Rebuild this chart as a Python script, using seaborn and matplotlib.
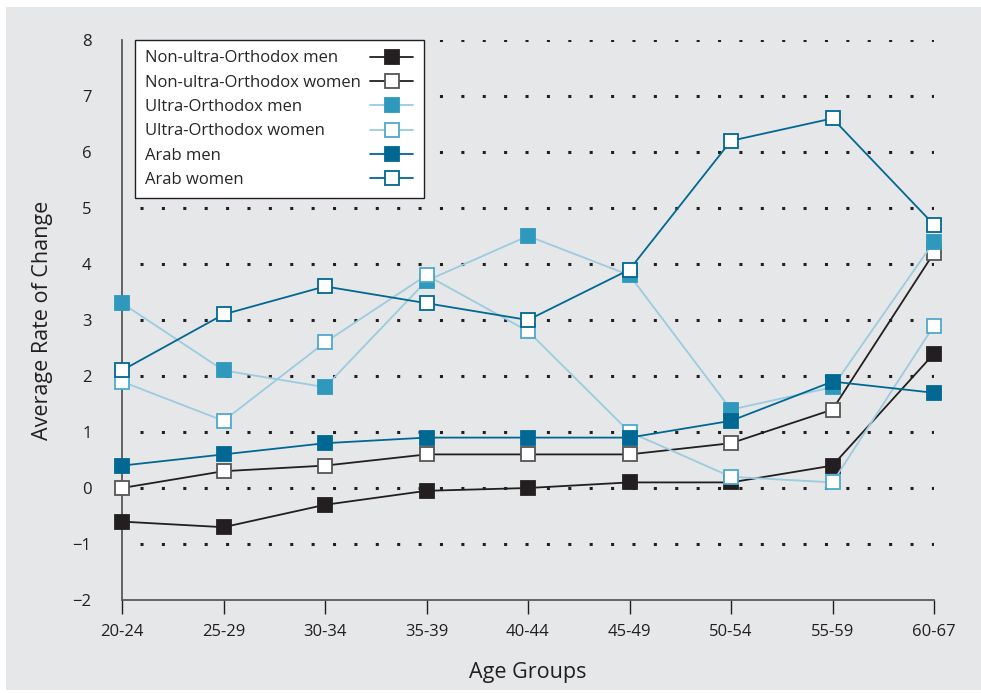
import pandas as pd
import seaborn as sns
import matplotlib.pyplot as plt
from matplotlib.patches import Rectangle

# DATA
age_groups = ["20-24", "25-29", "30-34", "35-39", "40-44", "45-49", "50-54", "55-59", "60-67"]
non_uo_men = [-0.6, -0.7, -0.3, -0.05, 0.0, 0.1, 0.1, 0.4, 2.4]
non_uo_women = [0.0, 0.3, 0.4, 0.6, 0.6, 0.6, 0.8, 1.4, 4.2]
uo_men = [3.3, 2.1, 1.8, 3.7, 4.5, 3.8, 1.4, 1.8, 4.4]
uo_women = [1.9, 1.2, 2.6, 3.8, 2.8, 1.0, 0.2, 0.1, 2.9]
arab_men = [0.4, 0.6, 0.8, 0.9, 0.9, 0.9, 1.2, 1.9, 1.7]
arab_women = [2.1, 3.1, 3.6, 3.3, 3.0, 3.9, 6.2, 6.6, 4.7]
y_ticks = [-2, -1, 0, 1, 2, 3, 4, 5, 6, 7, 8]

# (label, values, line colour, face colour, edge colour)
series = [
    ("Non-ultra-Orthodox men", non_uo_men, "#231f20", "#231f20", "#231f20"),
    ("Non-ultra-Orthodox women", non_uo_women, "#231f20", "white", "#555555"),
    ("Ultra-Orthodox men", uo_men, "#9ccbe0", "#2f98bd", "#2f98bd"),
    ("Ultra-Orthodox women", uo_women, "#9ccbe0", "white", "#4ea9cd"),
    ("Arab men", arab_men, "#006893", "#006893", "#006893"),
    ("Arab women", arab_women, "#006893", "white", "#006893"),
]

sns.set_style("white")
plt.rcParams["font.family"] = ["Open Sans", "DejaVu Sans"]

bg = "#e6e7e8"
fig = plt.figure(figsize=(9.81, 6.93), dpi=100)
fig.patches.append(Rectangle((6 / 981, 0.004), 1, 1 - 7 / 693 - 0.004,
                             transform=fig.transFigure, facecolor=bg,
                             edgecolor="none", zorder=-10))
ax = fig.add_axes([122 / 981, 1 - 600 / 693, 812 / 981, 560 / 693])
ax.set_facecolor(bg)

# DOTTED GRID
ax.hlines([t for t in y_ticks if t > -2], 0.18, 8.0, colors="#231f20",
          linestyles=(0, (1, 6)), linewidth=2.2, zorder=0)

for label, vals, lc, fc, ec in series:
    df = pd.DataFrame({"age": age_groups, "val": vals})
    sns.lineplot(data=df, x="age", y="val", ax=ax, color=lc, linewidth=1.3,
                 marker="s", markersize=10.5, markerfacecolor=fc,
                 markeredgecolor=ec, markeredgewidth=1.3, label=label,
                 clip_on=False, zorder=3)

ax.set_xlim(0, 8)
ax.set_ylim(-2, 8)
ax.set_yticks(y_ticks)
for s in ["top", "right"]:
    ax.spines[s].set_visible(False)
for s in ["left", "bottom"]:
    ax.spines[s].set_color("#58595b")
    ax.spines[s].set_linewidth(1.3)

ax.tick_params(axis="y", length=0, pad=22, labelsize=12, labelcolor="#231f20")
ax.tick_params(axis="x", direction="out", length=10, width=1, color="#231f20",
               pad=7, labelsize=12, labelcolor="#231f20", bottom=True)

ax.set_xlabel("Age Groups", fontsize=15.5, labelpad=16, color="#231f20")
ax.set_ylabel("Average Rate of Change", fontsize=15.5, labelpad=14, color="#231f20")

leg = ax.legend(loc="upper left", bbox_to_anchor=(0.016, 1.0), markerfirst=False,
                fontsize=12, frameon=True, fancybox=False, framealpha=1,
                edgecolor="#231f20", handlelength=2.6, labelspacing=0.5,
                borderpad=0.62, handletextpad=0.6, borderaxespad=0)
leg.get_frame().set_linewidth(1.0)
leg.get_frame().set_facecolor("white")

# LABELS LEFT, HANDLES RIGHT (LIKE THE REFERENCE)
col = leg._legend_handle_box.get_children()[0]
col.align = "left"
col.width = 268
for item in col.get_children():
    item.mode = "expand"

plt.savefig("out.png", dpi=100)
plt.close("all")
